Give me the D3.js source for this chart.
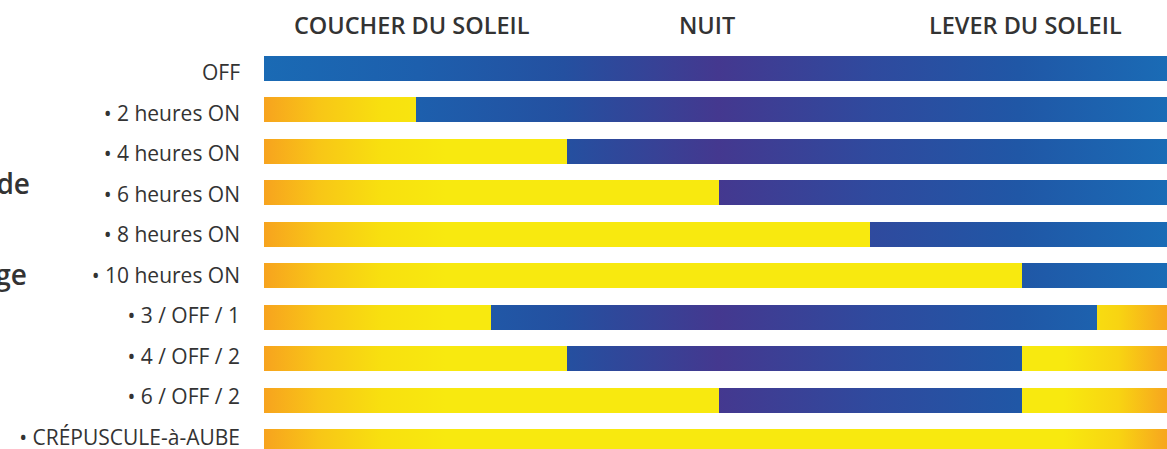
<!DOCTYPE html>
<html><head><meta charset="utf-8">
<script src="https://cdn.jsdelivr.net/npm/d3@7"></script>
<style>
html,body{margin:0;padding:0;background:#fff;overflow:hidden;}
svg{display:block;font-family:"Open Sans",sans-serif;}
</style></head>
<body>
<svg id="chart" width="1167" height="449"></svg>
<script>
const categories = ["OFF","• 2 heures ON","• 4 heures ON","• 6 heures ON","• 8 heures ON","• 10 heures ON","• 3 / OFF / 1","• 4 / OFF / 2","• 6 / OFF / 2","• CRÉPUSCULE-à-AUBE"];
const hoursOnAfterDusk = [0,2,4,6,8,10,3,4,6,12];
const hoursOnBeforeDawn = [0,0,0,0,0,0,1,2,2,0];
const totalHours = 12;
const headerLabels = ["COUCHER DU SOLEIL","NUIT","LEVER DU SOLEIL"];
const headerHours = [1.95,5.85,10.05];
const sideTitle = ["Mode de","d'éclairage"];

const svg = d3.select("#chart");
const x = d3.scaleLinear().domain([0,totalHours]).range([264,1173]);
const y = d3.scaleBand().domain(categories).range([56,454]).paddingInner(0.397).paddingOuter(0);
const yText = d3.scalePoint().domain(categories).range([73,438]);

const defs = svg.append("defs");
const night = defs.append("linearGradient").attr("id","night").attr("gradientUnits","userSpaceOnUse")
  .attr("x1",x(0)).attr("x2",x(totalHours)).attr("y1",0).attr("y2",0);
[[0,"#1a6ab4"],[0.17,"#1d5fad"],[0.33,"#2450a0"],[0.5,"#44388f"],[0.67,"#2f4a9e"],[0.83,"#2057a6"],[1,"#1a6cb6"]]
  .forEach(([o,c])=>night.append("stop").attr("offset",o).attr("stop-color",c));
const day = defs.append("linearGradient").attr("id","day").attr("gradientUnits","userSpaceOnUse")
  .attr("x1",x(0)).attr("x2",x(totalHours)).attr("y1",0).attr("y2",0);
[[0,"#f7a31e"],[0.06,"#f8c617"],[0.13,"#f8e00f"],[0.2,"#f8e90f"],[0.88,"#f8e90f"],[0.94,"#f8d412"],[0.99,"#f7a81e"],[1,"#f7a61e"]]
  .forEach(([o,c])=>day.append("stop").attr("offset",o).attr("stop-color",c));

const segs = [];
categories.forEach((c,i)=>{
  const a = hoursOnAfterDusk[i], b = totalHours - hoursOnBeforeDawn[i];
  if (a>0) segs.push({c, s:0, e:a, t:"day"});
  if (b>a) segs.push({c, s:a, e:b, t:"night"});
  if (b<totalHours) segs.push({c, s:b, e:totalHours, t:"day"});
});
svg.append("g").selectAll("rect").data(segs).join("rect")
  .attr("x",d=>x(d.s)).attr("width",d=>x(d.e)-x(d.s))
  .attr("y",d=>y(d.c)).attr("height",y.bandwidth())
  .attr("fill",d=>`url(#${d.t})`).attr("shape-rendering","crispEdges");

svg.append("g").selectAll("text").data(categories).join("text")
  .attr("x",240).attr("y",d=>yText(d)+7)
  .attr("text-anchor","end").attr("font-size",21).attr("fill","#333")
  .text(d=>d);

svg.append("g").selectAll("text").data(headerLabels).join("text")
  .attr("x",(d,i)=>x(headerHours[i])).attr("y",34)
  .attr("text-anchor","middle").attr("font-size",23.5).attr("font-weight",600).attr("fill","#333")
  .text(d=>d);

svg.append("g").selectAll("text").data(sideTitle).join("text")
  .attr("x",(d,i)=>i===0?30:27).attr("y",(d,i)=>i===0?194:285)
  .attr("text-anchor","end").attr("font-size",28).attr("font-weight",600).attr("fill","#333")
  .text(d=>d);
</script>
</body></html>
